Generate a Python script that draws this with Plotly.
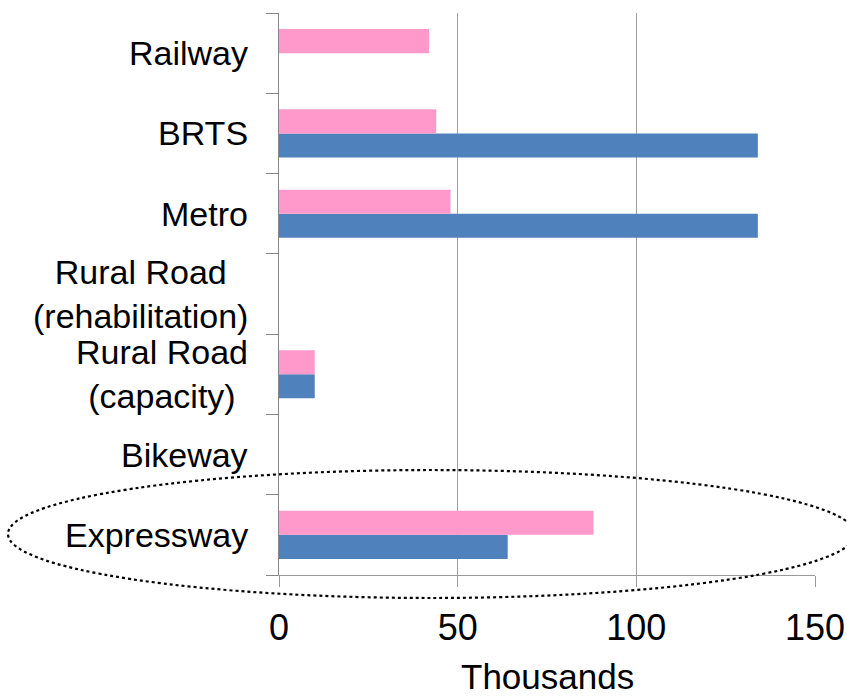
import plotly.graph_objects as go

categories = ["Expressway", "Bikeway", "Rural Road (capacity)",
              "Rural Road (rehabilitation)", "Metro", "BRTS", "Railway"]
category_labels = ["Expressway", "Bikeway", "Rural Road<br>(capacity)",
                   "Rural Road<br>(rehabilitation)", "Metro", "BRTS", "Railway"]
blue_values = [64, None, 10, None, 134, 134, None]
pink_values = [88, None, 10, None, 48, 44, 42]
x_ticks = [0, 50, 100, 150]
x_title = "Thousands"

FONT = "Liberation Sans, Arial, sans-serif"

fig = go.Figure()
fig.add_trace(go.Bar(y=categories, x=blue_values, orientation="h",
                     marker=dict(color="#4F81BD", line=dict(width=0)),
                     name="Series 1"))
fig.add_trace(go.Bar(y=categories, x=pink_values, orientation="h",
                     marker=dict(color="#FF99CC", line=dict(width=0)),
                     name="Series 2"))

annotations = []
for cat, lab in zip(categories, category_labels):
    annotations.append(dict(x=0, xref="paper", y=cat, yref="y",
                            text=lab, showarrow=False, xanchor="right",
                            yanchor="middle", align="center", xshift=-29,
                            font=dict(family=FONT, size=34, color="black")))
annotations.append(dict(x=0.5, xref="paper", y=-0.143, yref="paper",
                        text=x_title, showarrow=False, xanchor="center",
                        yanchor="top",
                        font=dict(family=FONT, size=35, color="black")))

fig.update_layout(
    width=847, height=696,
    margin=dict(l=279, r=32, t=13, b=121, autoexpand=False),
    paper_bgcolor="white", plot_bgcolor="white",
    barmode="group", bargap=0.4, bargroupgap=0,
    showlegend=False,
    annotations=annotations,
    shapes=[dict(type="circle", xref="paper", yref="paper",
                 x0=-0.5056, x1=1.0746, y0=-0.0409, y1=0.1868,
                 line=dict(color="black", width=2.2, dash="dot"),
                 layer="above")],
)
fig.update_xaxes(range=[0, 150], tickvals=x_ticks, automargin=False,
                 showgrid=True, gridcolor="#A0A0A0", gridwidth=1,
                 zeroline=False, showline=True, linecolor="#9A9A9A",
                 linewidth=1, ticks="outside", ticklen=11, tickcolor="#9A9A9A",
                 ticklabelstandoff=10,
                 tickfont=dict(family=FONT, size=36, color="black"),
                 fixedrange=True)
fig.update_yaxes(type="category", categoryorder="array", automargin=False,
                 categoryarray=categories, showticklabels=False,
                 showgrid=False, zeroline=False, showline=True,
                 linecolor="#868686", linewidth=1, ticks="outside",
                 tickson="boundaries", ticklen=12, tickcolor="#868686",
                 fixedrange=True)

fig.write_html("out.html")
